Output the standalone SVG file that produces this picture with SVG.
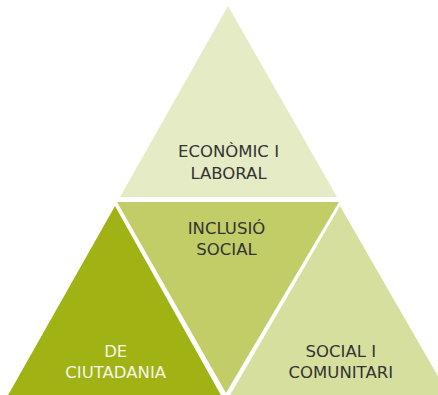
<svg xmlns="http://www.w3.org/2000/svg" width="438" height="395" viewBox="0 0 438 395">
<style>
.lbl{font-family:"DejaVu Sans","Verdana",sans-serif;font-size:16.5px;text-anchor:middle;fill:#333333}
.lblw{fill:#f4f6e6}
</style>
<rect width="438" height="395" fill="#ffffff"/>
<g id="economic">
<polygon points="228,6 120,197 337,197" fill="#e5ebc5"/>
<text class="lbl" x="228.5" y="157">ECONÒMIC I</text>
<text class="lbl" x="228.5" y="179">LABORAL</text>
</g>
<g id="inclusio">
<polygon points="117,202 339,202 226,393" fill="#c2cd68"/>
<text class="lbl" x="226.5" y="234">INCLUSIÓ</text>
<text class="lbl" x="226.5" y="255">SOCIAL</text>
</g>
<g id="ciutadania">
<polygon points="115,206 7,397 222,397" fill="#a0b214"/>
<text class="lbl lblw" x="115.7" y="357">DE</text>
<text class="lbl lblw" x="115.7" y="378">CIUTADANIA</text>
</g>
<g id="comunitari">
<polygon points="340,206 229,397 450,397" fill="#d7df9f"/>
<text class="lbl" x="340.8" y="357">SOCIAL I</text>
<text class="lbl" x="340.8" y="378">COMUNITARI</text>
</g>
<g id="connectors"/>
</svg>
